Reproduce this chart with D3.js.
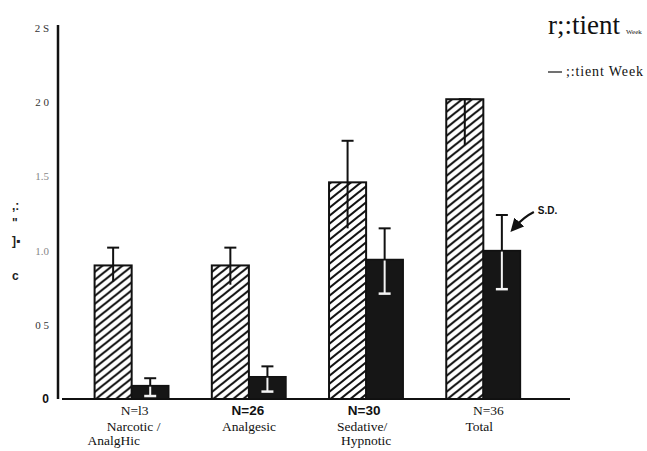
<!DOCTYPE html>
<html>
<head>
<meta charset="utf-8">
<script src="https://cdnjs.cloudflare.com/ajax/libs/d3/7.8.5/d3.min.js"></script>
<style>
body{margin:0;background:#fff;}
</style>
</head>
<body>
<div id="chart"></div>
<script>
// data
var groups = ["g1","g2","g3","g4"];
var nLabels = ["N=l3","N=26","N=30","N=36"];
var line1 = ["Narcotic /","Analgesic","Sedative/","Total"];
var line2 = ["AnalgHic","","Hypnotic",""];
var series = ["pre","post"];
var preMean  = [0.90, 0.90, 1.46, 2.02];
var preHi    = [1.02, 1.02, 1.74, 2.02];
var preLo    = [0.79, 0.77, 1.15, 1.71];
var postMean = [0.09, 0.15, 0.94, 1.00];
var postHi   = [0.14, 0.22, 1.15, 1.24];
var postLo   = [0.02, 0.05, 0.71, 0.74];
var yTicks = [0, 0.5, 1.0, 1.5, 2.0, 2.5];
var yTickLabels = ["0","0 5","1.0","1.5","2 0","2 S"];

var width = 647, height = 451;

var svg = d3.select("#chart")
    .append("svg")
    .attr("width", width)
    .attr("height", height);

// hatch pattern for the first series
var defs = svg.append("defs");
defs.append("pattern")
    .attr("id","hatch")
    .attr("patternUnits","userSpaceOnUse")
    .attr("width",10)
    .attr("height",8)
    .append("path")
    .attr("d","M0,8 L10,0 M-5,4 L5,-4 M5,12 L15,4")
    .style("stroke","#111")
    .style("stroke-width","2.1px");

var x = d3.scaleBand()
    .domain(groups)
    .range([73.5, 541.5])
    .paddingInner(0.3675)
    .paddingOuter(0.18);

var xs = d3.scaleBand()
    .domain(series)
    .range([0, x.bandwidth()]);

var y = d3.scaleLinear()
    .domain([0, 2.5])
    .range([399, 28]);

// y axis
var yAxis = svg.append("g")
    .attr("transform","translate(58,0)")
    .call(d3.axisLeft(y).tickValues(yTicks)
        .tickSize(0).tickPadding(9)
        .tickFormat(function(d,i){return yTickLabels[i];}));
yAxis.select(".domain")
    .attr("d","M0,25V399")
    .style("stroke","#111")
    .style("stroke-width","2.5px");
yAxis.selectAll("text")
    .style("font-family","'Liberation Serif', serif")
    .style("font-size","11px")
    .style("fill",function(d){return (d==1||d==1.5)?"#888":"#333";});
yAxis.selectAll(".tick").filter(function(d){return d==0;}).select("text")
    .style("font-family","'Liberation Sans', sans-serif")
    .style("font-weight","bold")
    .style("font-size","12px")
    .style("fill","#111");

// baseline
svg.append("line")
    .attr("x1",62).attr("x2",570)
    .attr("y1",y(0)).attr("y2",y(0))
    .style("stroke","#111")
    .style("stroke-width","2px");

// garbled y title from the scan
var yt = [[",:",210],["\"",227],["]▪",245],["c",280]];
svg.selectAll(".ytitle").data(yt).enter().append("text")
    .attr("x",12).attr("y",function(d){return d[1];})
    .text(function(d){return d[0];})
    .style("font-family","'Liberation Sans', sans-serif")
    .style("font-weight","bold")
    .style("font-size","12px")
    .style("fill","#222");

var rows = groups.map(function(g,i){
    return {g:g, pre:preMean[i], preHi:preHi[i], preLo:preLo[i],
            post:postMean[i], postHi:postHi[i], postLo:postLo[i]};
});

var gg = svg.selectAll(".grp").data(rows).enter().append("g")
    .attr("transform",function(d){return "translate("+x(d.g)+",0)";});

// hatched bars
gg.append("rect")
    .attr("x",xs("pre"))
    .attr("width",xs.bandwidth())
    .attr("y",function(d){return y(d.pre);})
    .attr("height",function(d){return y(0)-y(d.pre);})
    .style("fill","url(#hatch)")
    .style("stroke","#111")
    .style("stroke-width","2px");

// dark bars
gg.append("rect")
    .attr("x",xs("post"))
    .attr("width",xs.bandwidth())
    .attr("y",function(d){return y(d.post);})
    .attr("height",function(d){return y(0)-y(d.post);})
    .style("fill","#161616")
    .style("stroke","#111")
    .style("stroke-width","1.5px");

// error bars, first series
var cxPre = xs("pre") + xs.bandwidth()/2;
gg.append("line")
    .attr("x1",cxPre).attr("x2",cxPre)
    .attr("y1",function(d){return y(d.preLo);})
    .attr("y2",function(d){return y(d.preHi);})
    .style("stroke","#111").style("stroke-width","2px");
gg.append("line")
    .attr("x1",cxPre-6).attr("x2",cxPre+6)
    .attr("y1",function(d){return y(d.preHi);})
    .attr("y2",function(d){return y(d.preHi);})
    .style("stroke","#111").style("stroke-width","2px");

// error bars, second series: black above the bar, white inside it
var cxPost = xs("post") + xs.bandwidth()/2;
gg.append("line")
    .attr("x1",cxPost).attr("x2",cxPost)
    .attr("y1",function(d){return y(d.post);})
    .attr("y2",function(d){return y(d.postHi);})
    .style("stroke","#111").style("stroke-width","2px");
gg.append("line")
    .attr("x1",cxPost-6).attr("x2",cxPost+6)
    .attr("y1",function(d){return y(d.postHi);})
    .attr("y2",function(d){return y(d.postHi);})
    .style("stroke","#111").style("stroke-width","2px");
gg.append("line")
    .attr("x1",cxPost).attr("x2",cxPost)
    .attr("y1",function(d){return y(d.post)+1;})
    .attr("y2",function(d){return y(d.postLo);})
    .style("stroke","#f4f4f4").style("stroke-width","2px");
gg.append("line")
    .attr("x1",cxPost-6).attr("x2",cxPost+6)
    .attr("y1",function(d){return y(d.postLo);})
    .attr("y2",function(d){return y(d.postLo);})
    .style("stroke","#f4f4f4").style("stroke-width","2.5px");

// category labels
gg.append("text")
    .attr("x",function(d,i){return x.bandwidth()/2+[3,-1,-2,5][i];})
    .attr("y",415)
    .attr("text-anchor","middle")
    .text(function(d,i){return nLabels[i];})
    .style("font-family",function(d,i){return (i==1||i==2)?"'Liberation Sans', sans-serif":"'Liberation Serif', serif";})
    .style("font-weight",function(d,i){return (i==1||i==2)?"bold":"normal";})
    .style("font-size","13.5px")
    .style("fill","#111");
gg.append("text")
    .attr("x",function(d,i){return x.bandwidth()/2+[2,0,-4,-4][i];})
    .attr("y",431)
    .attr("text-anchor","middle")
    .text(function(d,i){return line1[i];})
    .style("font-family","'Liberation Serif', serif")
    .style("font-size","13.5px")
    .style("fill","#111");
gg.append("text")
    .attr("x",function(d,i){return x.bandwidth()/2+[-18,0,0,0][i];})
    .attr("y",445)
    .attr("text-anchor","middle")
    .text(function(d,i){return line2[i];})
    .style("font-family","'Liberation Serif', serif")
    .style("font-size","13.5px")
    .style("fill","#111");

// S.D. annotation pointing at last dark error bar
var ax = x("g4") + cxPost, ay = y(postHi[3]);
defs.append("marker")
    .attr("id","arr")
    .attr("viewBox","0 0 10 10")
    .attr("refX",5).attr("refY",5)
    .attr("markerWidth",6).attr("markerHeight",6)
    .attr("orient","auto")
    .append("path").attr("d","M0,0L10,5L0,10z").style("fill","#111");
svg.append("path")
    .attr("d","M"+(ax+32)+","+(ay-3)+" Q"+(ax+22)+","+(ay+2)+" "+(ax+13)+","+(ay+12))
    .attr("marker-end","url(#arr)")
    .style("fill","none").style("stroke","#111").style("stroke-width","2.2px");
svg.append("text")
    .attr("x",ax+36).attr("y",ay-1)
    .text("S.D.")
    .style("font-family","'Liberation Sans', sans-serif")
    .style("font-weight","bold")
    .style("font-size","10px")
    .style("fill","#111");

// legend (as scanned)
svg.append("text")
    .attr("x",548).attr("y",34)
    .text("r;:tient")
    .style("font-family","'Liberation Serif', serif")
    .style("font-size","27px")
    .attr("textLength",72)
    .attr("lengthAdjust","spacingAndGlyphs")
    .style("fill","#111");
svg.append("text")
    .attr("x",626).attr("y",34)
    .text("Week")
    .style("font-family","'Liberation Serif', serif")
    .style("font-size","7px")
    .style("fill","#111");
svg.append("line")
    .attr("x1",548).attr("x2",562)
    .attr("y1",72).attr("y2",72)
    .style("stroke","#111").style("stroke-width","1.2px");
svg.append("text")
    .attr("x",566).attr("y",76)
    .text(";:tient Week")
    .style("font-family","'Liberation Serif', serif")
    .style("font-size","14px")
    .attr("textLength",77)
    .style("fill","#111");
</script>
</body>
</html>
